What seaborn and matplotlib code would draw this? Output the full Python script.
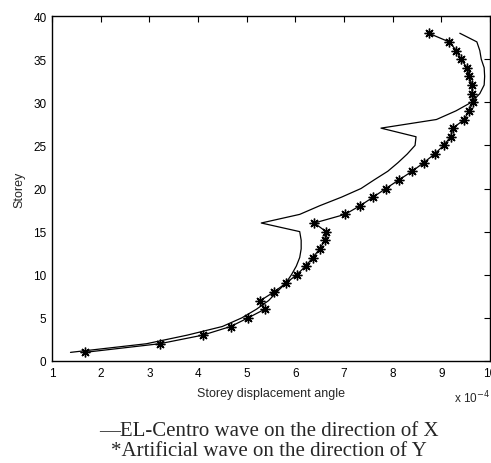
import numpy as np
import pandas as pd
import matplotlib
matplotlib.use("Agg")
import matplotlib.pyplot as plt
import seaborn as sns

storeys = list(range(1, 39))

# EL-Centro wave (X direction), units of 1e-4
el_centro = [1.38, 2.94, 3.78, 4.5, 4.9, 5.2, 5.45, 5.62, 5.8, 5.92,
             6.02, 6.09, 6.12, 6.12, 6.09, 5.3, 6.09, 6.5, 6.95, 7.35,
             7.62, 7.9, 8.11, 8.3, 8.46, 8.48, 7.76, 8.9, 9.3, 9.62,
             9.79, 9.88, 9.89, 9.88, 9.82, 9.79, 9.73, 9.38]

# Artificial wave (Y direction), units of 1e-4
artificial = [1.67, 3.21, 4.10, 4.67, 5.03, 5.37, 5.28, 5.56, 5.80, 6.03,
              6.21, 6.36, 6.50, 6.61, 6.63, 6.39, 7.02, 7.33, 7.60, 7.86,
              8.13, 8.40, 8.64, 8.86, 9.05, 9.19, 9.24, 9.47, 9.57, 9.65,
              9.63, 9.63, 9.57, 9.53, 9.40, 9.31, 9.16, 8.74]

xticks = [1, 2, 3, 4, 5, 6, 7, 8, 9, 10]
yticks = [0, 5, 10, 15, 20, 25, 30, 35, 40]

df_el = pd.DataFrame({"angle": el_centro, "storey": storeys})
df_ar = pd.DataFrame({"angle": artificial, "storey": storeys})

sns.set_style("white")
plt.rcParams["font.family"] = ["Liberation Sans", "DejaVu Sans"]

fig = plt.figure(figsize=(4.91, 4.64), dpi=100)
ax = fig.add_axes([52/491, 1-362/464, (490-52)/491, (362-17)/464])

sns.lineplot(data=df_el, x="angle", y="storey", sort=False, ax=ax,
             color="black", linewidth=0.9, estimator=None)
sns.lineplot(data=df_ar, x="angle", y="storey", sort=False, ax=ax,
             color="black", linewidth=0.9, estimator=None,
             marker=(8, 2, 0), markersize=7, markeredgewidth=1.0,
             markeredgecolor="black")

ax.set_xlim(1, 10)
ax.set_ylim(0, 40)
ax.set_xticks(xticks)
ax.set_yticks(yticks)
ax.set_xticklabels([str(t) for t in xticks])
ax.set_yticklabels([str(t) for t in yticks])
ax.tick_params(direction="in", length=4, width=0.8, top=True, right=True,
               labelsize=8.5, pad=4, colors="black")
for s in ax.spines.values():
    s.set_visible(True)
    s.set_color("black")
    s.set_linewidth(1.0)
ax.set_xlabel("Storey displacement angle", fontsize=9, labelpad=6)
ax.set_ylabel("Storey", fontsize=9, labelpad=5.5)

fig.text(490/491, 1-398/464, r"x 10$^{-4}$", fontsize=8.5, ha="right", va="center")

serif = ["Liberation Serif", "DejaVu Serif"]
fig.text(269/491, 1-432/464, "\u2014EL-Centro wave on the direction of X",
         fontsize=15, family=serif, ha="center", va="center")
fig.text(269/491, 1-452/464, "*Artificial wave on the direction of Y",
         fontsize=15, family=serif, ha="center", va="center")

fig.savefig("out.png", dpi=100)
